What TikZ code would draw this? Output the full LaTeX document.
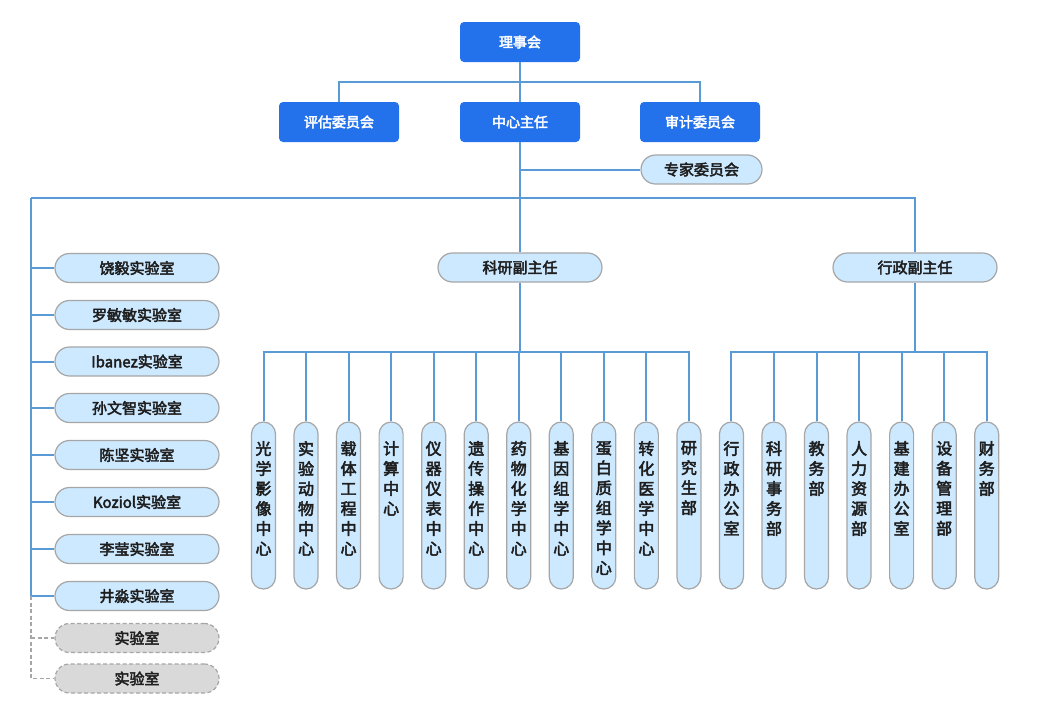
\documentclass[tikz,border=0pt]{standalone}
\usepackage{fontspec}
\setmainfont{Noto Sans CJK SC}[AutoFakeBold=3]
\definecolor{tb}{RGB}{35,114,236}
\definecolor{ln}{RGB}{91,155,213}
\definecolor{lb}{RGB}{204,233,255}
\definecolor{gb}{RGB}{166,166,166}
\definecolor{dg}{RGB}{217,217,217}
\definecolor{tx}{RGB}{30,30,30}
\begin{document}
\begin{tikzpicture}[x=1pt,y=-1pt,
 topbox/.style={draw=none, fill=tb, rounded corners=4pt, minimum width=120pt, minimum height=40pt, text=white, font=\fontsize{14}{16}\selectfont\bfseries, inner sep=0pt},
 labbox/.style={draw=gb, line width=1.2pt, fill=lb, rounded corners=14.5pt, minimum width=164pt, minimum height=29pt, inner sep=0pt, text=tx, font=\fontsize{15}{17}\selectfont\bfseries},
 dbox/.style={labbox, dash pattern=on 4pt off 2.5pt, fill=dg},
 vbox/.style={draw=gb, line width=1.2pt, fill=lb, rounded corners=12pt, minimum width=24pt, minimum height=167pt, inner sep=0pt},
 vtext/.style={anchor=north, inner sep=0pt, align=center, text=tx, font=\fontsize{16}{20}\selectfont\bfseries},
 conn/.style={draw=ln, line width=2pt},
 dconn/.style={draw=gb, line width=1.2pt, dash pattern=on 4pt off 2.5pt}]
\useasboundingbox (0,0) rectangle (1040,720);

% top level
\node[topbox] (lsh) at (520,42) {理事会};
\node[topbox] (pg) at (339,122) {评估委员会};
\node[topbox] (zr) at (520,122) {中心主任};
\node[topbox] (sj) at (700,122) {审计委员会};
\node[labbox, minimum width=121pt] (zj) at (701.5,169.5) {专家委员会};
\node[labbox] (ky) at (520,267.5) {科研副主任};
\node[labbox] (xz) at (915,267.5) {行政副主任};

% labs
\foreach \txt/\yy [count=\i] in {饶毅实验室/268, 罗敏敏实验室/315, Ibanez实验室/361.5, 孙文智实验室/408, 陈坚实验室/455, Koziol实验室/502, 李莹实验室/549, 井淼实验室/596}
  \node[labbox] (lab\i) at (137,\yy) {\txt};
\node[dbox] (d1) at (137,638) {实验室};
\node[dbox] (d2) at (137,678.5) {实验室};

% vertical columns
\foreach \txt [count=\i] in {{光\\学\\影\\像\\中\\心},{实\\验\\动\\物\\中\\心},{载\\体\\工\\程\\中\\心},{计\\算\\中\\心},{仪\\器\\仪\\表\\中\\心},{遗\\传\\操\\作\\中\\心},{药\\物\\化\\学\\中\\心},{基\\因\\组\\学\\中\\心},{蛋\\白\\质\\组\\学\\中\\心},{转\\化\\医\\学\\中\\心},{研\\究\\生\\部},{行\\政\\办\\公\\室},{科\\研\\事\\务\\部},{教\\务\\部},{人\\力\\资\\源\\部},{基\\建\\办\\公\\室},{设\\备\\管\\理\\部},{财\\务\\部}}{
  \pgfmathsetmacro\xx{263.5+42.54*(\i-1)}
  \node[vbox] (c\i) at (\xx,505.5) {};
  \node[vtext] (t\i) at (\xx,441) {\txt};
}

% connectors
\coordinate (T) at (520,82);
\coordinate (M) at (520,198);
\coordinate (L) at (31,198);
\coordinate (R) at (915,198);
\coordinate (kb) at (520,352);
\coordinate (xb) at (915,352);
\draw[conn] (lsh.south) -- (zr.north);
\draw[conn] (pg.north) |- (T) -| (sj.north);
\draw[conn] (zr.south) -- (M);
\draw[conn] (zr.south |- zj.west) -- (zj.west);
\draw[conn] (L) -- (R) -- (xz.north);
\draw[conn] (M) -- (ky.north);
\draw[conn] (L) -- (L |- lab8.west);
\foreach \i in {1,...,8} \draw[conn] (L |- lab\i.west) -- (lab\i.west);
\draw[dconn] (L |- lab8.west) -- (L |- d2.west) -- (d2.west);
\draw[dconn] (L |- d1.west) -- (d1.west);

\draw[conn] (ky.south) -- (kb);
\draw[conn] (c1.north) -- (c1.north |- kb) -- (c11.north |- kb) -- (c11.north);
\foreach \i in {2,...,10} \draw[conn] (c\i.north) -- (c\i.north |- kb);
\draw[conn] (xz.south) -- (xb);
\draw[conn] (c12.north) -- (c12.north |- xb) -- (c18.north |- xb) -- (c18.north);
\foreach \i in {13,...,17} \draw[conn] (c\i.north) -- (c\i.north |- xb);
\end{tikzpicture}
\end{document}
